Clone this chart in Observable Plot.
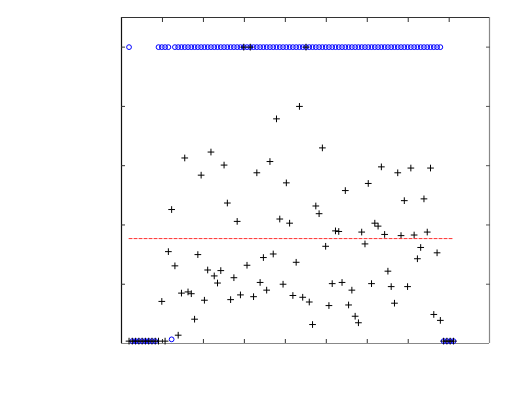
<!DOCTYPE html>
<html>
<head>
<meta charset="utf-8">
<script src="https://cdn.jsdelivr.net/npm/d3@7"></script>
<script src="https://cdn.jsdelivr.net/npm/@observablehq/plot@0.6"></script>
<style>
  html, body { margin: 0; padding: 0; background: #fff; }
  #chart svg { display: block; }
</style>
</head>
<body>
<div id="chart"></div>
<script>
// sample index 1..100
const sampleIndex = d3.range(1, 101);

// "+" series values
const crossValues = [
  0.04, 0.04, 0.04, 0.04, 0.04, 0.04, 0.04, 0.04, 0.04, 0.04,
  0.71, 0.04, 1.55, 2.26, 1.31, 0.14, 0.85, 3.13, 0.87, 0.84,
  0.41, 1.50, 2.84, 0.73, 1.24, 3.23, 1.14, 1.02, 1.23, 3.01,
  2.37, 0.74, 1.11, 2.06, 0.82, 5.00, 1.32, 5.00, 0.79, 2.88,
  1.03, 1.45, 0.90, 3.07, 1.51, 3.79, 2.10, 1.00, 2.71, 2.03,
  0.81, 1.37, 4.00, 0.78, 5.00, 0.70, 0.32, 2.32, 2.19, 3.30,
  1.64, 0.64, 1.01, 1.90, 1.89, 1.03, 2.58, 0.65, 0.90, 0.46,
  0.35, 1.88, 1.68, 2.70, 1.01, 2.03, 1.98, 2.98, 1.84, 1.22,
  0.96, 0.68, 2.88, 1.82, 2.41, 0.96, 2.96, 1.83, 1.43, 1.62,
  2.44, 1.88, 2.96, 0.49, 1.53, 0.39, 0.04, 0.04, 0.04, 0.04
];

// "o" series values (class labels)
const circleValues = [
  5, 0.04, 0.04, 0.04, 0.04, 0.04, 0.04, 0.04, 0.04, 5,
  5, 5, 5, 0.07, 5, 5, 5, 5, 5, 5,
  5, 5, 5, 5, 5, 5, 5, 5, 5, 5,
  5, 5, 5, 5, 5, 5, 5, 5, 5, 5,
  5, 5, 5, 5, 5, 5, 5, 5, 5, 5,
  5, 5, 5, 5, 5, 5, 5, 5, 5, 5,
  5, 5, 5, 5, 5, 5, 5, 5, 5, 5,
  5, 5, 5, 5, 5, 5, 5, 5, 5, 5,
  5, 5, 5, 5, 5, 5, 5, 5, 5, 5,
  5, 5, 5, 5, 5, 5, 0.04, 0.04, 0.04, 0.04
];

// dashed threshold line
const thresholdValue = 1.77;
const thresholdSpan = [1, 100];

// axes
const xDomain = [-1.3, 111.0];
const yDomain = [0, 5.5];
const xTicks = [11.2, 23.7, 36.2, 48.7, 61.2, 73.7, 86.2, 98.7];
const yTicks = [1, 2, 3, 4, 5];

const crosses = sampleIndex.map((i, j) => ({i, v: crossValues[j]}));
const circles = sampleIndex.map((i, j) => ({i, v: circleValues[j]}));
const threshold = thresholdSpan.map(i => ({i, v: thresholdValue}));

const chart = Plot.plot({
  width: 511,
  height: 393,
  marginLeft: 121,
  marginRight: 22,
  marginTop: 17,
  marginBottom: 50,
  style: {background: "#fff", fontFamily: "DejaVu Sans"},
  x: {domain: xDomain, axis: null},
  y: {domain: yDomain, axis: null},
  marks: [
    Plot.ruleX([xDomain[1]], {stroke: "#888", strokeWidth: 1.2}),
    Plot.ruleY([yDomain[0]], {stroke: "#888", strokeWidth: 1.2}),
    Plot.ruleX([xDomain[0]], {stroke: "#111", strokeWidth: 1.2}),
    Plot.ruleY([yDomain[1]], {stroke: "#333", strokeWidth: 1.2}),
    Plot.axisX(xTicks, {anchor: "bottom", tickSize: -4, tickFormat: () => "", label: null, stroke: "#333"}),
    Plot.axisX(xTicks, {anchor: "top", tickSize: -4, tickFormat: () => "", label: null, stroke: "#333"}),
    Plot.axisY(yTicks, {anchor: "left", tickSize: -4, tickFormat: () => "", label: null, stroke: "#333"}),
    Plot.axisY(yTicks, {anchor: "right", tickSize: -4, tickFormat: () => "", label: null, stroke: "#555"}),
    Plot.dot(circles, {x: "i", y: "v", symbol: "circle", r: 2.4, stroke: "#0000ff", strokeWidth: 1, fill: "none"}),
    Plot.dot(crosses, {x: "i", y: "v", symbol: "plus", r: 2.3, stroke: "#000", strokeWidth: 1}),
    Plot.line(threshold, {x: "i", y: "v", stroke: "#ff3030", strokeWidth: 1, strokeDasharray: "3,2"})
  ]
});
document.getElementById("chart").appendChild(chart);
</script>
</body>
</html>
